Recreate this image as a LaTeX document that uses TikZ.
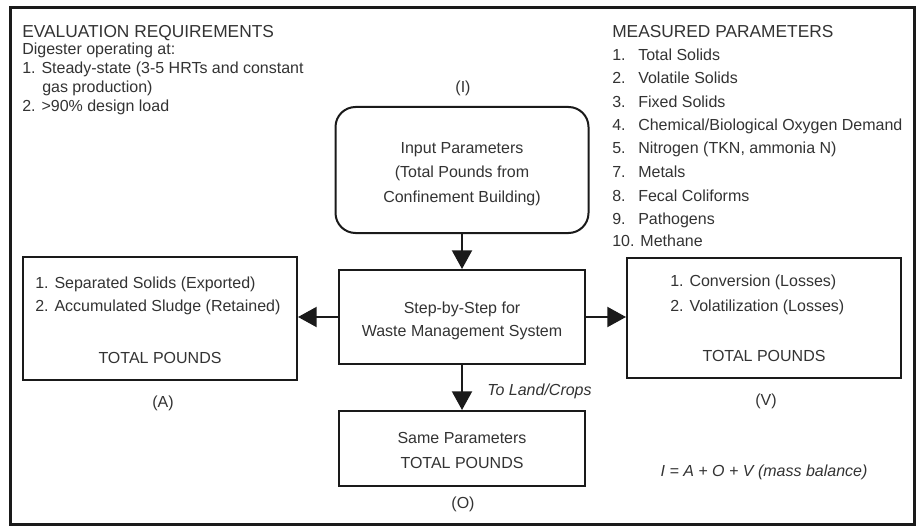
\documentclass[tikz,border=0pt]{standalone}
\usepackage{fontspec}
\setmainfont{Liberation Sans}
\usetikzlibrary{arrows.meta}
\definecolor{ink}{HTML}{333333}
\definecolor{rule}{HTML}{1A1A1A}
\newcommand{\numitem}[2]{\makebox[19.5pt][l]{#1}#2}
\begin{document}
\begin{tikzpicture}[x=0.75pt,y=-0.75pt,
  txt/.style={text=ink, font=\fontsize{12}{14}\selectfont, inner sep=0pt},
  lbl/.style={txt, anchor=base west},
  ctr/.style={txt, anchor=base},
  head/.style={lbl, font=\fontsize{13}{15}\selectfont},
  box/.style={draw=rule, line width=1.5pt, inner sep=0pt},
  arr/.style={draw=rule, line width=1.5pt, -{Triangle[length=14pt,width=15pt]}}]

% canvas and outer frame
\useasboundingbox (0,0) rectangle (919,527);
\fill[white] (0,0) rectangle (919,527);
\draw[rule, line width=2.25pt] (10,8) rectangle (914,524);

% evaluation requirements
\node[head] (evalT) at (22,38) {EVALUATION REQUIREMENTS};
\node[lbl] (eval0) at (22,55) {Digester operating at:};
\node[lbl] (eval1) at (22,74) {1. Steady-state (3-5 HRTs and constant};
\node[lbl] (eval1b) at (42,93) {gas production)};
\node[lbl] (eval2) at (22,112) {2. >90\% design load};

% measured parameters
\node[head] (measT) at (612,38) {MEASURED PARAMETERS};
\node[lbl] (m1) at (612,61) {\numitem{1.}{Total Solids}};
\node[lbl] (m2) at (612,84) {\numitem{2.}{Volatile Solids}};
\node[lbl] (m3) at (612,108) {\numitem{3.}{Fixed Solids}};
\node[lbl] (m4) at (612,131) {\numitem{4.}{Chemical/Biological Oxygen Demand}};
\node[lbl] (m5) at (612,154) {\numitem{5.}{Nitrogen (TKN, ammonia N)}};
\node[lbl] (m7) at (612,178) {\numitem{7.}{Metals}};
\node[lbl] (m8) at (612,201) {\numitem{8.}{Fecal Coliforms}};
\node[lbl] (m9) at (612,224) {\numitem{9.}{Pathogens}};
\node[lbl] (m10) at (612,246) {10. Methane};

% input parameters (I)
\node[ctr] (labI) at (463,93) {(I)};
\node[box, rounded corners=15pt, minimum width=189.75pt, minimum height=94.5pt] (inp) at (462,170) {};
\node[ctr] (inp1) at (462,154) {Input Parameters};
\node[ctr] (inp2) at (462,178) {(Total Pounds from};
\node[ctr] (inp3) at (462,203) {Confinement Building)};

% step-by-step system
\node[box, minimum width=184.5pt, minimum height=70.5pt] (step) at (462,317) {};
\node[ctr] (step1) at (462,313) {Step-by-Step for};
\node[ctr] (step2) at (462,336) {Waste Management System};

% retained / exported solids (A)
\node[box, minimum width=205.5pt, minimum height=92.25pt] (A) at (160,318.5) {};
\node[lbl] (A1) at (35,288) {1. Separated Solids (Exported)};
\node[lbl] (A2) at (35,311) {2. Accumulated Sludge (Retained)};
\node[ctr] (A3) at (160,363) {TOTAL POUNDS};
\node[ctr] (labA) at (163,407) {(A)};

% losses (V)
\node[box, minimum width=205.5pt, minimum height=90pt] (V) at (764,318) {};
\node[lbl] (V1) at (670,286) {1. Conversion (Losses)};
\node[lbl] (V2) at (670,311) {2. Volatilization (Losses)};
\node[ctr] (V3) at (764,361) {TOTAL POUNDS};
\node[ctr] (labV) at (766,405) {(V)};

% land application (O)
\node[box, minimum width=184.5pt, minimum height=56.25pt] (D) at (462,448.5) {};
\node[ctr] (D1) at (462,443) {Same Parameters};
\node[ctr] (D2) at (462,468) {TOTAL POUNDS};
\node[ctr] (labD) at (463,508) {(O)};
\node[lbl, font=\fontsize{12}{14}\selectfont\itshape] (land) at (487,395) {To Land/Crops};

% mass balance
\node[ctr, font=\fontsize{12}{14}\selectfont\itshape] (bal) at (764,476) {I = A + O + V (mass balance)};

% flows
\draw[arr] (inp.south) -- (step.north);
\draw[arr] (step.west) -- (step.west -| A.east);
\draw[arr] (step.east) -- (step.east -| V.west);
\draw[arr] (step.south) -- (D.north);
\end{tikzpicture}
\end{document}
